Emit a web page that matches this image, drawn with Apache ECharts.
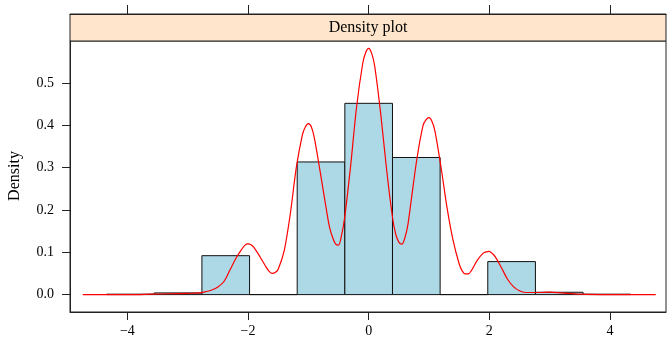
<!DOCTYPE html>
<html>
<head>
<meta charset="utf-8">
<script src="https://cdn.jsdelivr.net/npm/echarts@6/dist/echarts.min.js"></script>
<style>
html,body{margin:0;padding:0;background:#fff;}
#chart{width:667px;height:338px;}
</style>
</head>
<body>
<div id="chart"></div>
<script>
// ---- data ----
const binEdges = [-4.345, -3.555, -2.765, -1.975, -1.185, -0.395, 0.395, 1.185, 1.975, 2.765, 3.555, 4.345];
const binDensity = [0.001, 0.004, 0.092, 0, 0.3135, 0.452, 0.324, 0, 0.078, 0.0055, 0.001];

const curveX = [-4.74, -4.4, -4.0, -3.6, -3.3, -3.0, -2.8, -2.7, -2.6, -2.5, -2.4, -2.3, -2.2, -2.1, -2.05, -2.0, -1.95,
  -1.9, -1.8, -1.7, -1.65, -1.6, -1.55, -1.5, -1.4, -1.3, -1.2, -1.1, -1.05, -1.0, -0.95, -0.9, -0.8, -0.7, -0.65, -0.6, -0.55, -0.5, -0.45, -0.4,
  -0.3, -0.2, -0.1, -0.05, 0.0, 0.05, 0.1, 0.2, 0.3, 0.4, 0.45, 0.5, 0.55, 0.6, 0.65, 0.7, 0.8, 0.9, 0.95, 1.0, 1.05, 1.1, 1.2, 1.3, 1.4, 1.5,
  1.55, 1.6, 1.65, 1.7, 1.8, 1.9, 1.95, 2.0, 2.05, 2.1, 2.2, 2.3, 2.4, 2.5, 2.6, 2.8, 3.0, 3.2, 3.5, 4.0, 4.76];
const curveY = [0.000, 0.000, 0.000, 0.001, 0.002, 0.003, 0.004, 0.007, 0.011, 0.018, 0.031, 0.058, 0.086, 0.108, 0.117, 0.120, 0.118,
  0.111, 0.089, 0.065, 0.055, 0.050, 0.052, 0.060, 0.104, 0.190, 0.300, 0.377, 0.396, 0.404, 0.396, 0.370, 0.287, 0.200, 0.160, 0.136, 0.120, 0.117, 0.140, 0.180,
  0.303, 0.444, 0.545, 0.572, 0.582, 0.570, 0.540, 0.427, 0.292, 0.178, 0.142, 0.124, 0.119, 0.134, 0.165, 0.217, 0.321, 0.399, 0.413, 0.418, 0.409, 0.386, 0.301, 0.205, 0.128, 0.073,
  0.056, 0.049, 0.049, 0.056, 0.081, 0.098, 0.101, 0.102, 0.097, 0.089, 0.064, 0.037, 0.019, 0.009, 0.005, 0.005, 0.006, 0.004, 0.001, 0.000, 0.000];

const xTicks = [-4, -2, 0, 2, 4];
const yTicks = [0, 0.1, 0.2, 0.3, 0.4, 0.5];
const stripTitle = 'Density plot';
const yTitle = 'Density';

// ---- build ----
const bins = binDensity.map((d, i) => [binEdges[i], binEdges[i + 1], d]);
const curve = curveX.map((x, i) => [x, curveY[i]]);

const FONT = '"Liberation Serif", "DejaVu Serif", serif';
const AX = '#222';
const XMIN = -4.952, XMAX = 4.93;

const chart = echarts.init(document.getElementById('chart'), null, {renderer: 'canvas'});
chart.setOption({
  animation: false,
  backgroundColor: '#fff',
  grid: [
    {left: 70, right: 1, top: 41, bottom: 26, show: true, borderColor: AX, borderWidth: 1, backgroundColor: 'transparent'},
    {left: 70, right: 1, top: 14, height: 27, show: true, borderColor: AX, borderWidth: 1, backgroundColor: '#FFE5CC'}
  ],
  xAxis: [
    {
      gridIndex: 0, type: 'value', min: XMIN, max: XMAX,
      axisLine: {show: true, onZero: false, lineStyle: {color: AX, width: 1}},
      axisTick: {show: true, length: 8, inside: false, customValues: xTicks, lineStyle: {color: AX}},
      axisLabel: {show: true, customValues: xTicks, margin: 12, fontFamily: FONT, fontSize: 14, color: '#000',
        formatter: v => (v < 0 ? '\u2212' + Math.abs(v) : String(v))},
      splitLine: {show: false}
    },
    {
      gridIndex: 1, type: 'value', min: XMIN, max: XMAX, position: 'top',
      axisLine: {show: true, onZero: false, lineStyle: {color: AX, width: 1}},
      axisTick: {show: true, length: 9, inside: false, customValues: xTicks, lineStyle: {color: AX}},
      axisLabel: {show: false},
      splitLine: {show: false}
    }
  ],
  yAxis: [
    {
      gridIndex: 0, type: 'value', min: -0.0411, max: 0.5993,
      axisLine: {show: true, onZero: false, lineStyle: {color: AX, width: 1}},
      axisTick: {show: true, length: 8, inside: false, customValues: yTicks, lineStyle: {color: AX}},
      axisLabel: {show: true, customValues: yTicks, margin: 16, fontFamily: FONT, fontSize: 14, color: '#000',
        formatter: v => v.toFixed(1)},
      splitLine: {show: false}
    },
    {gridIndex: 1, type: 'value', min: 0, max: 1, show: false}
  ],
  graphic: [
    {type: 'text', x: 368, y: 28,
      style: {text: stripTitle, x: 0, y: 0, align: 'center', verticalAlign: 'middle', font: '16px ' + FONT, fill: '#000'}, z: 100},
    {type: 'text', x: 15, y: 176, rotation: Math.PI / 2,
      style: {text: yTitle, x: 0, y: 0, align: 'center', verticalAlign: 'middle', font: '16px ' + FONT, fill: '#000'}, z: 100}
  ],
  series: [
    {
      type: 'custom', xAxisIndex: 0, yAxisIndex: 0, data: bins, z: 2,
      renderItem: function (params, api) {
        const p0 = api.coord([api.value(0), api.value(2)]);
        const p1 = api.coord([api.value(1), 0]);
        return {
          type: 'rect',
          shape: {x: p0[0], y: p0[1], width: p1[0] - p0[0], height: p1[1] - p0[1]},
          style: {fill: '#ADD8E6', stroke: '#111', lineWidth: 1}
        };
      }
    },
    {
      type: 'line', xAxisIndex: 0, yAxisIndex: 0, data: curve, showSymbol: false, symbol: 'none',
      smooth: 0.3, z: 5,
      lineStyle: {color: '#FF0000', width: 1.2}
    }
  ]
});
</script>
</body>
</html>
